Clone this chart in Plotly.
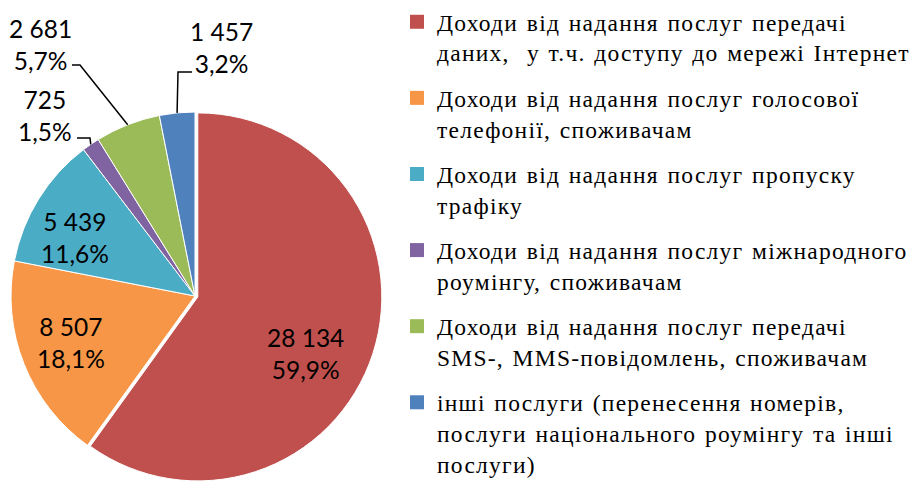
import math
import plotly.graph_objects as go

# ---------------- data ----------------
category_lines = [
    ["Доходи від надання послуг передачі", "даних,  у т.ч. доступу до мережі Інтернет"],
    ["Доходи від надання послуг голосової", "телефонії, споживачам"],
    ["Доходи від надання послуг пропуску", "трафіку"],
    ["Доходи від надання послуг міжнародного", "роумінгу, споживачам"],
    ["Доходи від надання послуг передачі", "SMS-, MMS-повідомлень, споживачам"],
    ["інші послуги (перенесення номерів,", "послуги національного роумінгу та інші", "послуги)"],
]
values = [28134, 8507, 5439, 725, 2681, 1457]
pct_labels = ["59,9%", "18,1%", "11,6%", "1,5%", "5,7%", "3,2%"]
colors = ["#C0504D", "#F79646", "#4BACC6", "#8064A2", "#9BBB59", "#4F81BD"]

# ---------------- layout constants ----------------
W, H = 916, 483
LABEL_FONT = "Lato, 'Open Sans', sans-serif"
LEG_FONT = "'Liberation Serif', 'Times New Roman', serif"
LABEL_SIZE = 24.5
LEG_SIZE = 23.5
LEG_STYLE = "letter-spacing:1.25px;word-spacing:1.5px"

cx, cy, r = 195, 296, 184          # pie centre / radius in px
PULL = 0.016                       # red slice slightly detached
# label block centres (px) and leader elbows for the outside labels
label_pos = [(305, 353), (71, 342), (75, 238), (45, 115), (40, 44), (221, 47)]
leaders = {
    3: [(90, 138), (77, 138)],
    4: [(80, 65), (72, 65)],
    5: [(178, 72), (192, 72)],
}


def fmt(v):
    return f"{v:,}".replace(",", " ")


def px2paper(x, y):
    return x / W, 1 - y / H


plain_names = [" ".join(ls) for ls in category_lines]
legend_names = ["<br>".join(f"<span style='{LEG_STYLE}'>{l}</span>" for l in ls)
                for ls in category_lines]
texts = [f"{fmt(v)}<br>{p}" for v, p in zip(values, pct_labels)]

rr = r * (1 + PULL)   # plotly shrinks radius to make room for the pull
dom_x = [(cx - rr) / W, (cx + rr) / W]
dom_y = [1 - (cy + rr) / H, 1 - (cy - rr) / H]

fig = go.Figure()
fig.add_trace(go.Pie(
    labels=plain_names,
    values=values,
    textinfo="none",
    sort=False,
    direction="clockwise",
    rotation=0,
    pull=[PULL, 0, 0, 0, 0, 0],
    marker=dict(colors=colors, line=dict(color="white", width=1)),
    domain=dict(x=dom_x, y=dom_y),
    showlegend=False,
    hoverinfo="label+value+percent",
))

# legend entries (one group each so the spacing between entries can be set)
for i, (name, col) in enumerate(zip(legend_names, colors)):
    fig.add_trace(go.Scatter(
        x=[None], y=[None], name=name, mode="markers",
        marker=dict(color=col, symbol="square", size=14, line=dict(width=0)),
        legendgroup=f"g{i}", showlegend=True, hoverinfo="skip",
    ))

# labels & leader lines
total = sum(values)
cum = 0
mids = []
for v in values:
    mids.append((cum + v / 2) / total)
    cum += v

shapes = []
annotations = []
for i, t in enumerate(texts):
    lx, ly = label_pos[i]
    ax, ay = px2paper(lx, ly)
    annotations.append(dict(xref="paper", yref="paper", x=ax, y=ay, text=t,
                            showarrow=False, xanchor="center", yanchor="middle",
                            align="center",
                            font=dict(family=LABEL_FONT, size=LABEL_SIZE, color="black")))
    if i in leaders:
        ang = 2 * math.pi * mids[i]
        pts = [(cx + r * math.sin(ang), cy - r * math.cos(ang))] + leaders[i]
        pp = [px2paper(*p) for p in pts]
        path = "M " + " L ".join(f"{a} {b}" for a, b in pp)
        shapes.append(dict(type="path", xref="paper", yref="paper", path=path,
                           line=dict(color="black", width=1.5)))

fig.update_layout(
    width=W, height=H,
    margin=dict(l=0, r=0, t=0, b=0),
    paper_bgcolor="white", plot_bgcolor="white",
    showlegend=True,
    xaxis=dict(visible=False), yaxis=dict(visible=False),
    legend=dict(x=397 / W, y=1.0, xanchor="left", yanchor="top",
                font=dict(family=LEG_FONT, size=LEG_SIZE, color="black"),
                valign="top", tracegroupgap=12, traceorder="grouped",
                bgcolor="rgba(0,0,0,0)", maxheight=1000),
    shapes=shapes,
    annotations=annotations,
)

fig.write_html("out.html", config={"staticPlot": True},
               post_script="document.body.style.margin='0';")
